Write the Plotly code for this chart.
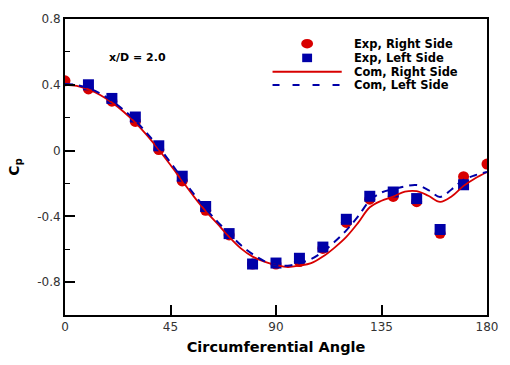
import plotly.graph_objects as go

# Experimental data (angle in degrees, Cp)
exp_right_x = [0, 10, 20, 30, 40, 50, 60, 70, 80, 90, 100, 110, 120, 130, 140, 150, 160, 170, 180]
exp_right_y = [0.424, 0.375, 0.300, 0.177, 0.006, -0.185, -0.363, -0.513, -0.69, -0.69, -0.675,
               -0.595, -0.437, -0.296, -0.279, -0.311, -0.503, -0.159, -0.082]
exp_left_x = [10, 20, 30, 40, 50, 60, 70, 80, 90, 100, 110, 120, 130, 140, 150, 160, 170]
exp_left_y = [0.400, 0.317, 0.204, 0.029, -0.156, -0.340, -0.505, -0.690, -0.684, -0.655,
              -0.587, -0.418, -0.278, -0.252, -0.292, -0.480, -0.208]

# Computed curves
com_x = [0, 5, 10, 15, 20, 25, 30, 35, 40, 45, 50, 55, 60, 65, 70, 75, 80, 85, 90, 95,
         100, 105, 110, 115, 120, 125, 130, 135, 140, 145, 150, 155, 160, 165, 170, 175, 180]
com_right_y = [0.400, 0.393, 0.372, 0.338, 0.292, 0.236, 0.170, 0.092, 0.005, -0.088,
               -0.185, -0.280, -0.368, -0.445, -0.525, -0.595, -0.645, -0.675, -0.695, -0.708,
               -0.700, -0.685, -0.645, -0.590, -0.525, -0.440, -0.345, -0.305, -0.280, -0.250,
               -0.247, -0.275, -0.312, -0.278, -0.215, -0.168, -0.130]
com_left_y = [0.405, 0.398, 0.380, 0.347, 0.302, 0.247, 0.182, 0.105, 0.020, -0.073,
              -0.170, -0.265, -0.353, -0.432, -0.505, -0.575, -0.630, -0.672, -0.695, -0.700,
              -0.685, -0.660, -0.615, -0.555, -0.485, -0.400, -0.305, -0.255, -0.235, -0.218,
              -0.210, -0.240, -0.282, -0.235, -0.178, -0.150, -0.130]

series_names = ["Exp, Right Side", "Exp, Left Side", "Com, Right Side", "Com, Left Side"]
x_ticks = [0, 45, 90, 135, 180]
y_ticks = [-0.8, -0.4, 0, 0.4, 0.8]
y_tick_labels = ["-0.8", "-0.4", "0", "0.4", "0.8"]

RED = "#d80000"
BLUE = "#0000a8"
W, H = 510, 365
ML, MR, MT, MB = 65, 18, 13, 40
PW, PH = W - ML - MR, H - MT - MB


def px(xp):
    return (xp - ML) / PW


def py(yp):
    return (H - MB - yp) / PH


fig = go.Figure()
fig.add_trace(go.Scatter(x=exp_right_x, y=exp_right_y, mode="markers", name=series_names[0],
                         marker=dict(symbol="circle", size=11, color=RED)))
fig.add_trace(go.Scatter(x=exp_left_x, y=exp_left_y, mode="markers", name=series_names[1],
                         marker=dict(symbol="square", size=11, color=BLUE)))
fig.add_trace(go.Scatter(x=com_x, y=com_right_y, mode="lines", name=series_names[2],
                         line=dict(color=RED, width=1.8, shape="spline")))
fig.add_trace(go.Scatter(x=com_x, y=com_left_y, mode="lines", name=series_names[3],
                         line=dict(color=BLUE, width=2, dash="8px,6px", shape="spline")))

# Legend (drawn as key shapes + texts to match the compact row spacing)
row_y = [39, 54, 68.5, 82.5]
shapes = [
    dict(type="circle", xref="paper", yref="paper", x0=px(304), x1=px(316),
         y0=py(row_y[0] + 5), y1=py(row_y[0] - 5), fillcolor=RED, line=dict(width=0)),
    dict(type="rect", xref="paper", yref="paper", x0=px(305), x1=px(315),
         y0=py(row_y[1] + 4.5), y1=py(row_y[1] - 4.5), fillcolor=BLUE, line=dict(width=0)),
    dict(type="line", xref="paper", yref="paper", x0=px(275), x1=px(345),
         y0=py(row_y[2]), y1=py(row_y[2]), line=dict(color=RED, width=2)),
    dict(type="line", xref="paper", yref="paper", x0=px(275), x1=px(345),
         y0=py(row_y[3]), y1=py(row_y[3]), line=dict(color=BLUE, width=2, dash="7px,13px")),
]
annotations = []
for name, ry in zip(series_names, row_y):
    annotations.append(dict(x=px(356), y=py(ry), xref="paper", yref="paper", text=f"<b>{name}</b>",
                            showarrow=False, xanchor="left", yanchor="middle", borderpad=0,
                            font=dict(family="DejaVu Sans", size=11.5, color="black")))
annotations.append(dict(x=px(109), y=py(54), xref="paper", yref="paper", text="<b>x/D = 2.0</b>",
                        showarrow=False, xanchor="left", yanchor="middle", borderpad=0,
                        font=dict(family="DejaVu Sans", size=11, color="black")))

fig.update_layout(
    width=W, height=H,
    margin=dict(l=ML, r=MR, t=MT, b=MB),
    paper_bgcolor="white", plot_bgcolor="white",
    font=dict(family="DejaVu Sans", color="#222"),
    showlegend=False,
    shapes=shapes,
    annotations=annotations,
    xaxis=dict(range=[0, 180], tickvals=x_ticks, ticks="inside", ticklen=10, tickwidth=1.5,
               tickcolor="black", showline=True, linecolor="black", linewidth=2, mirror=True,
               showgrid=False, zeroline=False,
               tickfont=dict(family="DejaVu Sans", size=12, color="#333"),
               title=dict(text="<b>Circumferential Angle</b>", standoff=8,
                          font=dict(family="DejaVu Sans", size=14.5, color="black"))),
    yaxis=dict(range=[-1.0, 0.8], tickvals=y_ticks, ticktext=y_tick_labels, ticks="inside",
               ticklen=10, tickwidth=1.5, tickcolor="black", showline=True, linecolor="black",
               linewidth=2, mirror=True, showgrid=False, zeroline=False,
               minor=dict(tickvals=[-0.6, -0.2, 0.2, 0.6], ticks="inside", ticklen=5,
                          tickwidth=1.2, tickcolor="black"),
               tickfont=dict(family="DejaVu Sans", size=12, color="#333"),
               title=dict(text="<b>C<sub>p</sub></b>", standoff=14,
                          font=dict(family="DejaVu Sans", size=14, color="black"))),
)

fig.write_html("out.html")
